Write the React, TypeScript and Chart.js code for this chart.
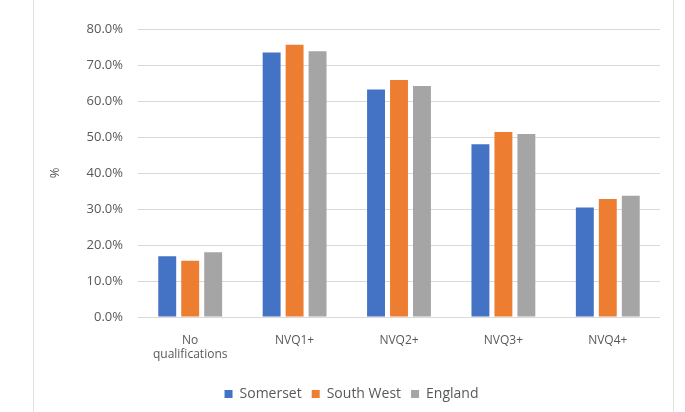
import React, { useEffect, useRef } from "react";
import { Chart, registerables } from "chart.js";

Chart.register(...registerables);

const categories: (string | string[])[] = [["No", "qualifications"], "NVQ1+", "NVQ2+", "NVQ3+", "NVQ4+"];
const somerset = [16.9, 73.5, 63.2, 48.0, 30.4];
const southWest = [15.6, 75.6, 65.8, 51.4, 32.8];
const england = [18.0, 73.8, 64.2, 50.8, 33.7];
const seriesNames = ["Somerset", "South West", "England"];
const colors = ["#4472C4", "#ED7D31", "#A5A5A5"];

export default function App() {
  const ref = useRef<HTMLCanvasElement | null>(null);
  useEffect(() => {
    document.body.style.margin = "0";
    const ctx = ref.current!;
    const font = "'Open Sans', 'Noto Sans', sans-serif";
    const chart = new Chart(ctx, {
      type: "bar",
      data: {
        labels: categories,
        datasets: [somerset, southWest, england].map((d, i) => ({
          label: seriesNames[i],
          data: d,
          backgroundColor: colors[i],
          categoryPercentage: 0.66,
          barPercentage: 0.78,
        })),
      },
      options: {
        animation: false,
        responsive: false,
        layout: { padding: { left: 43, right: 25, top: 29, bottom: 1 } },
        plugins: {
          tooltip: { enabled: false },
          legend: {
            position: "bottom",
            labels: {
              boxWidth: 8,
              boxHeight: 8,
              color: "#595959",
              font: { family: font, size: 14 },
              padding: 10,
            },
          },
        },
        scales: {
          x: {
            grid: { display: false },
            border: { display: false },
            ticks: { color: "#595959", font: { family: font, size: 12 }, maxRotation: 0, padding: 8 },
            afterFit: (s: any) => { s.height = 60; },
          },
          y: {
            min: 0,
            max: 80,
            ticks: {
              stepSize: 10,
              color: "#595959",
              font: { family: font, size: 13 },
              padding: 15,
              callback: (v: any) => Number(v).toFixed(1) + "%",
            },
            grid: { color: "#D9D9D9", lineWidth: 1, drawTicks: false },
            border: { display: false },
            title: { display: true, text: "%", color: "#595959", font: { family: font, size: 13 }, padding: { top: 4, bottom: 4 } },
            afterFit: (s: any) => { s.width = 95; },
          },
        },
      },
    });
    return () => chart.destroy();
  }, []);
  return (
    <div style={{ position: "relative", width: 685, height: 412, background: "#fff" }}>
      <canvas ref={ref} width={685} height={412} style={{ display: "block" }} />
      <div style={{ position: "absolute", left: 33, top: 0, width: 1, height: 412, background: "#E3E3E3" }} />
      <div style={{ position: "absolute", left: 673, top: 0, width: 1, height: 412, background: "#E3E3E3" }} />
    </div>
  );
}
